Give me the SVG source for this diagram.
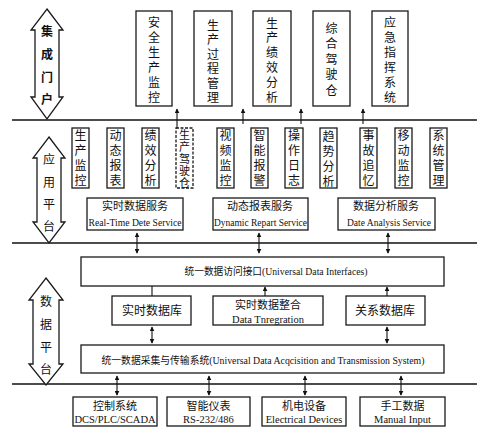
<svg xmlns="http://www.w3.org/2000/svg" width="487" height="437" viewBox="0 0 487 437">
<defs>
<marker id="ah" viewBox="0 0 8 8" refX="7" refY="4" markerWidth="5" markerHeight="5" orient="auto-start-reverse" markerUnits="userSpaceOnUse">
<path d="M0,0 L8,4 L0,8 Z" fill="#111"/>
</marker>
<style>
.bx{fill:#fff;stroke:#1a1a1a;stroke-width:1.3}
.dbx{fill:#fff;stroke:#1a1a1a;stroke-width:1.3;stroke-dasharray:3,1.5}
.bar{fill:#fff;stroke:#1a1a1a;stroke-width:1.3}
.sep{stroke:#111;stroke-width:1.6}
.cn{font-family:"Noto Sans CJK SC","Noto Sans",sans-serif;font-size:12px;fill:#111;text-anchor:middle}
.cns{font-family:"Noto Sans CJK SC","Noto Sans",sans-serif;font-size:11px;fill:#111;text-anchor:middle}
.en{font-family:"Liberation Serif",serif;font-size:10.5px;fill:#111;text-anchor:middle}
.mix{font-family:"Liberation Serif","Noto Sans CJK SC",serif;font-size:10.5px;fill:#111;text-anchor:middle}
.ln{stroke:#111;stroke-width:1.1;fill:none}
.a1{stroke:#111;stroke-width:1.1;fill:none;marker-end:url(#ah)}
.a2{stroke:#111;stroke-width:1.1;fill:none;marker-start:url(#ah);marker-end:url(#ah)}
</style>
</defs>
<rect width="487" height="437" fill="#fff"/>

<g id="separators">
<line class="sep" x1="12" y1="120" x2="477" y2="120"/>
<line class="sep" x1="12" y1="243" x2="477" y2="243"/>
<line class="sep" x1="12" y1="384" x2="477" y2="384"/>
</g>

<g id="layer-portal">
<polygon class="bar" points="47,9 63,30 59,30 59,97 63,97 47,119 31,97 35,97 35,30 31,30"/>
<text class="cn" font-weight="bold"><tspan x="47" y="36">集</tspan><tspan x="47" y="59">成</tspan><tspan x="47" y="82">门</tspan><tspan x="47" y="104">户</tspan></text>
</g>
<g id="layer-app">
<polygon class="bar" points="49,137 65,158 61,158 61,222 65,222 49,243 33,222 37,222 37,158 33,158"/>
<text class="cn"><tspan x="49" y="164">应</tspan><tspan x="49" y="187">用</tspan><tspan x="49" y="209">平</tspan><tspan x="49" y="231">台</tspan></text>
</g>
<g id="layer-data">
<polygon class="bar" points="46,278 63,300 59,300 59,364 63,364 46,385 29,364 33,364 33,300 29,300"/>
<text class="cn"><tspan x="46" y="306">数</tspan><tspan x="46" y="329">据</tspan><tspan x="46" y="352">平</tspan><tspan x="46" y="374">台</tspan></text>
</g>

<g id="portal-1"><rect class="bx" x="136" y="11" width="36" height="95"/>
<text class="cn"><tspan x="154" y="26.5">安</tspan><tspan x="154" y="41.5">全</tspan><tspan x="154" y="56.5">生</tspan><tspan x="154" y="71.5">产</tspan><tspan x="154" y="86.5">监</tspan><tspan x="154" y="101.5">控</tspan></text></g>
<g id="portal-2"><rect class="bx" x="194" y="11" width="38" height="95"/>
<text class="cn"><tspan x="213" y="29.5">生</tspan><tspan x="213" y="44">产</tspan><tspan x="213" y="58.5">过</tspan><tspan x="213" y="73">程</tspan><tspan x="213" y="87.5">管</tspan><tspan x="213" y="102">理</tspan></text></g>
<g id="portal-3"><rect class="bx" x="253" y="11" width="38" height="95"/>
<text class="cn"><tspan x="272" y="27.5">生</tspan><tspan x="272" y="42.3">产</tspan><tspan x="272" y="57.1">绩</tspan><tspan x="272" y="71.9">效</tspan><tspan x="272" y="86.7">分</tspan><tspan x="272" y="101.5">析</tspan></text></g>
<g id="portal-4"><rect class="bx" x="313" y="11" width="37" height="95"/>
<text class="cn"><tspan x="331.5" y="32.5">综</tspan><tspan x="331.5" y="48">合</tspan><tspan x="331.5" y="63.5">驾</tspan><tspan x="331.5" y="79">驶</tspan><tspan x="331.5" y="94.5">仓</tspan></text></g>
<g id="portal-5"><rect class="bx" x="372" y="11" width="36" height="95"/>
<text class="cn"><tspan x="390" y="26.5">应</tspan><tspan x="390" y="41.5">急</tspan><tspan x="390" y="56.5">指</tspan><tspan x="390" y="71.5">挥</tspan><tspan x="390" y="86.5">系</tspan><tspan x="390" y="101.5">统</tspan></text></g>

<g id="app-1"><rect class="bx" x="72" y="128" width="17" height="60"/>
<text class="cn"><tspan x="80.5" y="139.5">生</tspan><tspan x="80.5" y="154.5">产</tspan><tspan x="80.5" y="169.5">监</tspan><tspan x="80.5" y="184.5">控</tspan></text></g>
<g id="app-2"><rect class="bx" x="107" y="128" width="17" height="60"/>
<text class="cn"><tspan x="115.5" y="139.5">动</tspan><tspan x="115.5" y="154.5">态</tspan><tspan x="115.5" y="169.5">报</tspan><tspan x="115.5" y="184.5">表</tspan></text></g>
<g id="app-3"><rect class="bx" x="142" y="128" width="17" height="60"/>
<text class="cn"><tspan x="150.5" y="139.5">绩</tspan><tspan x="150.5" y="154.5">效</tspan><tspan x="150.5" y="169.5">分</tspan><tspan x="150.5" y="184.5">析</tspan></text></g>
<g id="app-4"><rect class="dbx" x="176" y="128" width="17" height="60"/>
<text class="cns"><tspan x="184.5" y="139">生</tspan><tspan x="184.5" y="151">产</tspan><tspan x="184.5" y="163">驾</tspan><tspan x="184.5" y="175">驶</tspan><tspan x="184.5" y="187">仓</tspan></text></g>
<g id="app-5"><rect class="bx" x="217" y="128" width="17" height="60"/>
<text class="cn"><tspan x="225.5" y="139.5">视</tspan><tspan x="225.5" y="154.5">频</tspan><tspan x="225.5" y="169.5">监</tspan><tspan x="225.5" y="184.5">控</tspan></text></g>
<g id="app-6"><rect class="bx" x="251" y="128" width="17" height="60"/>
<text class="cn"><tspan x="259.5" y="139.5">智</tspan><tspan x="259.5" y="154.5">能</tspan><tspan x="259.5" y="169.5">报</tspan><tspan x="259.5" y="184.5">警</tspan></text></g>
<g id="app-7"><rect class="bx" x="285" y="128" width="18" height="60"/>
<text class="cn"><tspan x="294" y="139.5">操</tspan><tspan x="294" y="154.5">作</tspan><tspan x="294" y="169.5">日</tspan><tspan x="294" y="184.5">志</tspan></text></g>
<g id="app-8"><rect class="bx" x="320" y="128" width="17" height="60"/>
<text class="cn"><tspan x="328.5" y="141">趋</tspan><tspan x="328.5" y="156">势</tspan><tspan x="328.5" y="171">分</tspan><tspan x="328.5" y="186">析</tspan></text></g>
<g id="app-9"><rect class="bx" x="360" y="128" width="17" height="60"/>
<text class="cn"><tspan x="368.5" y="139.5">事</tspan><tspan x="368.5" y="154.5">故</tspan><tspan x="368.5" y="169.5">追</tspan><tspan x="368.5" y="184.5">忆</tspan></text></g>
<g id="app-10"><rect class="bx" x="395" y="128" width="17" height="60"/>
<text class="cn"><tspan x="403.5" y="139.5">移</tspan><tspan x="403.5" y="154.5">动</tspan><tspan x="403.5" y="169.5">监</tspan><tspan x="403.5" y="184.5">控</tspan></text></g>
<g id="app-11"><rect class="bx" x="430" y="128" width="17" height="60"/>
<text class="cn"><tspan x="438.5" y="139.5">系</tspan><tspan x="438.5" y="154.5">统</tspan><tspan x="438.5" y="169.5">管</tspan><tspan x="438.5" y="184.5">理</tspan></text></g>

<g id="svc-1"><rect class="bx" x="87" y="198" width="96" height="32"/>
<text class="cns" x="135" y="210">实时数据服务</text>
<text class="en" x="135" y="226" textLength="93" lengthAdjust="spacingAndGlyphs">Real-Time Dete Service</text></g>
<g id="svc-2"><rect class="bx" x="213" y="198" width="95" height="32"/>
<text class="cns" x="260" y="210">动态报表服务</text>
<text class="en" x="260.5" y="226" textLength="93" lengthAdjust="spacingAndGlyphs">Dynamic Repart Service</text></g>
<g id="svc-3"><rect class="bx" x="338" y="198" width="97" height="32"/>
<text class="cns" x="386" y="210">数据分析服务</text>
<text class="en" x="389" y="226" textLength="84" lengthAdjust="spacingAndGlyphs">Date Analysis Service</text></g>

<g id="interfaces"><rect class="bx" x="81" y="257" width="363" height="29"/>
<text class="mix" x="276" y="275" textLength="183" lengthAdjust="spacingAndGlyphs">统一数据访问接口(Universal Data Interfaces)</text></g>

<g id="db-rt"><rect class="bx" x="112" y="296" width="79" height="29"/>
<text class="cn" x="152" y="315">实时数据库</text></g>
<g id="db-int"><rect class="bx" x="213" y="296" width="110" height="29"/>
<text class="cns" x="268" y="309">实时数据整合</text>
<text class="en" x="268" y="323">Data Tnregration</text></g>
<g id="db-rel"><rect class="bx" x="346" y="296" width="79" height="29"/>
<text class="cn" x="385" y="315">关系数据库</text></g>

<g id="acquisition"><rect class="bx" x="81" y="345" width="363" height="28"/>
<text class="mix" x="263" y="364" textLength="323" lengthAdjust="spacingAndGlyphs">统一数据采集与传输系统(Universal Data Acqcisition and Transmission System)</text></g>

<g id="src-1"><rect class="bx" x="73" y="397" width="84" height="29"/>
<text class="cns" x="115" y="410">控制系统</text>
<text class="en" x="115" y="423">DCS/PLC/SCADA</text></g>
<g id="src-2"><rect class="bx" x="167" y="397" width="83" height="29"/>
<text class="cns" x="208.5" y="410">智能仪表</text>
<text class="en" x="208.5" y="423">RS-232/486</text></g>
<g id="src-3"><rect class="bx" x="262" y="397" width="84" height="29"/>
<text class="cns" x="304" y="410">机电设备</text>
<text class="en" x="304" y="423">Electrical Devices</text></g>
<g id="src-4"><rect class="bx" x="360" y="397" width="85" height="29"/>
<text class="cns" x="402.5" y="410">手工数据</text>
<text class="en" x="402.5" y="423">Manual Input</text></g>

<g id="connectors">
<line class="a1" x1="177" y1="128" x2="177" y2="109"/>
<line class="a1" x1="243" y1="124" x2="243" y2="109"/>
<line class="a1" x1="301" y1="124" x2="301" y2="109"/>
<line class="a1" x1="363" y1="124" x2="363" y2="109"/>
<line class="a2" x1="137" y1="233" x2="137" y2="253"/>
<line class="a2" x1="259" y1="233" x2="259" y2="253"/>
<line class="a2" x1="388" y1="233" x2="388" y2="253"/>
<line class="ln" x1="152" y1="286" x2="152" y2="296"/>
<line class="a1" x1="265" y1="296" x2="265" y2="287"/>
<line class="a1" x1="387" y1="296" x2="387" y2="287"/>
<line class="a2" x1="152" y1="327" x2="152" y2="343"/>
<line class="a2" x1="387" y1="327" x2="387" y2="343"/>
<line class="a2" x1="117" y1="376" x2="117" y2="395"/>
<line class="a2" x1="209" y1="376" x2="209" y2="395"/>
<line class="a2" x1="305" y1="376" x2="305" y2="395"/>
<line class="a2" x1="401" y1="376" x2="401" y2="395"/>
</g>
</svg>
